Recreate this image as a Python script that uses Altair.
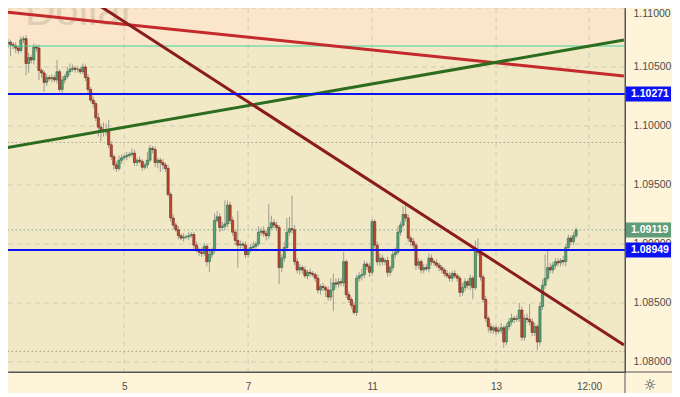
import altair as alt
import pandas as pd

# ---------------- data (EUR/USD hourly candles, hour index from Mon 3rd 00:00) ----------------
first_hour = 2
first_open = 1.1069
closes = [
    1.1070, 1.1071, 1.1069, 1.1068, 1.1066, 1.1064, 1.1073, 1.1074, 1.1053, 1.1058,
    1.1056, 1.1067, 1.1066, 1.1047, 1.1045, 1.1037, 1.1041, 1.1040, 1.1041, 1.1039,
    1.1046, 1.1031, 1.1039, 1.1042, 1.1046, 1.1048, 1.1049, 1.1048, 1.1048, 1.1046,
    1.1050, 1.1041, 1.1031, 1.1022, 1.1019, 1.1007, 1.0999, 1.0997, 1.0995, 1.0997,
    1.0984, 1.0974, 1.0967, 1.0964, 1.0971, 1.0973, 1.0974, 1.0975, 1.0976, 1.0977,
    1.0969, 1.0971, 1.0970, 1.0965, 1.0967, 1.0971, 1.0981, 1.0980, 1.0969, 1.0971,
    1.0969, 1.0967, 1.0964, 1.0942, 1.0922, 1.0916, 1.0912, 1.0907, 1.0905, 1.0906,
    1.0906, 1.0907, 1.0908, 1.0899, 1.0895, 1.0893, 1.0892, 1.0898, 1.0885, 1.0891,
    1.0895, 1.0920, 1.0923, 1.0914, 1.0915, 1.0917, 1.0933, 1.0920, 1.0910, 1.0903,
    1.0899, 1.0900, 1.0899, 1.0891, 1.0895, 1.0897, 1.0898, 1.0900, 1.0910, 1.0911,
    1.0909, 1.0907, 1.0914, 1.0918, 1.0916, 1.0914, 1.0880, 1.0888, 1.0897, 1.0910,
    1.0913, 1.0912, 1.0885, 1.0878, 1.0880, 1.0878, 1.0873, 1.0876, 1.0875, 1.0874,
    1.0871, 1.0861, 1.0864, 1.0863, 1.0861, 1.0855, 1.0861, 1.0867, 1.0866, 1.0868,
    1.0867, 1.0885, 1.0857, 1.0853, 1.0848, 1.0842, 1.0871, 1.0873, 1.0874, 1.0883,
    1.0881, 1.0876, 1.0919, 1.0899, 1.0885, 1.0888, 1.0885, 1.0886, 1.0876, 1.0880,
    1.0891, 1.0893, 1.0910, 1.0916, 1.0925, 1.0922, 1.0905, 1.0902, 1.0899, 1.0882,
    1.0885, 1.0878, 1.0880, 1.0879, 1.0888, 1.0885, 1.0884, 1.0882, 1.0880, 1.0878,
    1.0875, 1.0873, 1.0871, 1.0875, 1.0873, 1.0871, 1.0859, 1.0863, 1.0868, 1.0865,
    1.0871, 1.0863, 1.0895, 1.0893, 1.0872, 1.0853, 1.0837, 1.0830, 1.0827, 1.0829,
    1.0826, 1.0827, 1.0829, 1.0817, 1.0830, 1.0834, 1.0837, 1.0836, 1.0837, 1.0844,
    1.0821, 1.0837, 1.0836, 1.0834, 1.0825, 1.0830, 1.0817, 1.0847, 1.0865, 1.0871,
    1.0880, 1.0878, 1.0882, 1.0885, 1.0884, 1.0886, 1.0885, 1.0897, 1.0905, 1.0902,
    1.0907, 1.0912,
]
upper_wick_pips = [
    2, 3, 2, 2, 3, 2, 3, 2, 3, 4,
    2, 3, 2, 3, 2, 2, 3, 2, 3, 2,
    10, 2, 3, 2, 4, 5, 3, 2, 3, 2,
    3, 2, 3, 2, 3, 2, 4, 3, 6, 5,
    8, 3, 2, 3, 4, 3, 2, 3, 2, 4,
    3, 2, 3, 2, 2, 7, 3, 2, 3, 2,
    2, 3, 2, 3, 2, 3, 2, 3, 2, 3,
    2, 3, 2, 2, 3, 2, 4, 3, 2, 3,
    2, 6, 5, 3, 4, 20, 4, 3, 3, 2,
    25, 3, 2, 3, 2, 3, 4, 2, 5, 3,
    4, 3, 20, 6, 3, 3, 2, 3, 5, 12,
    10, 28, 4, 3, 3, 2, 3, 2, 3, 2,
    2, 3, 2, 3, 2, 3, 10, 8, 4, 3,
    3, 8, 2, 3, 2, 3, 3, 3, 5, 3,
    2, 3, 2, 2, 3, 4, 3, 2, 3, 2,
    3, 4, 5, 3, 7, 8, 3, 2, 3, 2,
    3, 2, 3, 3, 4, 3, 2, 3, 2, 2,
    2, 3, 3, 2, 3, 2, 2, 4, 3, 2,
    3, 2, 8, 10, 3, 2, 3, 2, 3, 2,
    2, 3, 4, 2, 3, 3, 4, 2, 3, 6,
    3, 3, 4, 13, 3, 3, 2, 4, 5, 20,
    14, 4, 3, 3, 3, 2, 4, 3, 3, 2,
    3, 2,
]
lower_wick_pips = [
    3, 4, 10, 3, 4, 3, 2, 3, 10, 8,
    3, 4, 3, 8, 4, 8, 3, 2, 3, 2,
    3, 2, 4, 3, 2, 3, 2, 3, 3, 2,
    2, 3, 3, 2, 4, 3, 8, 10, 4, 3,
    3, 3, 4, 3, 2, 3, 2, 3, 2, 2,
    3, 3, 2, 3, 2, 3, 2, 3, 4, 5,
    8, 4, 3, 2, 3, 3, 2, 3, 2, 3,
    2, 3, 2, 3, 2, 3, 3, 2, 4, 9,
    3, 3, 2, 4, 3, 3, 3, 3, 3, 4,
    19, 3, 4, 3, 3, 2, 3, 3, 2, 3,
    3, 4, 3, 2, 3, 3, 14, 4, 3, 3,
    3, 3, 3, 3, 4, 3, 2, 3, 3, 2,
    3, 3, 4, 3, 6, 3, 3, 18, 4, 3,
    3, 3, 3, 3, 3, 2, 3, 3, 4, 3,
    3, 4, 3, 3, 3, 4, 3, 3, 4, 3,
    3, 3, 2, 3, 2, 3, 3, 4, 3, 4,
    3, 3, 3, 2, 3, 3, 3, 2, 3, 3,
    3, 2, 3, 3, 2, 3, 4, 3, 3, 3,
    4, 10, 2, 3, 3, 3, 3, 5, 3, 3,
    3, 2, 3, 5, 3, 3, 3, 3, 2, 3,
    3, 3, 3, 3, 3, 3, 7, 3, 3, 3,
    2, 3, 3, 3, 3, 3, 3, 4, 3, 3,
    3, 2,
]

# x-axis ticks (hour index -> label)
tick_hours = [48, 96, 144, 192, 228]
tick_labels = ["5", "7", "11", "13", "12:00"]
# price axis ticks
price_ticks = [1.080, 1.085, 1.090, 1.095, 1.100, 1.105, 1.110]

# horizontal levels
blue_levels = [1.10271, 1.08949]
mint_level = 1.10678
dotted_levels = [1.0986, 1.0912, 1.0809]
dotted_colors = ["#a7a58f", "#86a88e", "#a7a58f"]

# trend lines (hour index, price)
trend_name = ["red", "red", "green", "green", "maroon", "maroon"]
trend_hour = [1.905, 241.524, 1.905, 241.524, 35.05, 241.524]
trend_price = [1.10966, 1.10424, 1.09814, 1.10729, 1.110678, 1.08144]
trend_colors = {"red": "#c42a2c", "green": "#2c6c1f", "maroon": "#8a1c1e"}

# price tags on the axis
tag_price = [1.10271, 1.09119, 1.08949]
tag_text = ["1.10271", "1.09119", "1.08949"]
tag_color = ["#0a12f5", "#5f9c79", "#0a12f5"]

# ---------------- build ----------------
opens = [first_open] + closes[:-1]
rows = []
for k, c in enumerate(closes):
    o = opens[k]
    rows.append(dict(
        t=first_hour + k, open=o, close=c,
        high=max(o, c) + upper_wick_pips[k] / 1e4,
        low=min(o, c) - lower_wick_pips[k] / 1e4,
        fillc="#58a078" if c >= o else "#bd4a30",
        edgec="#2f6a48" if c >= o else "#6e2418",
    ))
candles = pd.DataFrame(rows)

W, H = 617, 364
RP = 47
xs = alt.Scale(domain=[4.952, 240.0], nice=False, zero=False)
ys = alt.Scale(domain=[1.079151, 1.11], nice=False, zero=False)
FONT = "Liberation Sans"

label_expr = " : ".join(
    f"datum.value == {h} ? '{l}'" for h, l in zip(tick_hours, tick_labels)
) + " : ''"

x_axis = alt.Axis(values=tick_hours, labelExpr=label_expr, grid=False, ticks=False,
                  domain=True, domainColor="#555555", labelColor="#4d4d4d",
                  labelFont=FONT, labelFontSize=10, labelPadding=9, title=None)
y_axis = alt.Axis(orient="right", values=price_ticks, format=".5f", grid=False, ticks=False,
                  domain=True, domainColor="#555555", labelColor="#4d4d4d",
                  labelFont=FONT, labelFontSize=10.5, labelPadding=8, labelOverlap=False,
                  labelFlush=True, title=None)

# upper peach zone
zone = alt.Chart(pd.DataFrame({"lo": [mint_level], "hi": [1.11]})).mark_rect(
    color="#fce6cb").encode(
    x=alt.value(0), x2=alt.value(W),
    y=alt.Y("lo:Q", scale=ys, axis=y_axis), y2="hi:Q")

# dashed grid
hgrid = alt.Chart(pd.DataFrame({"p": price_ticks})).mark_rule(
    color="#d3ccb4", strokeDash=[5, 4], strokeWidth=1).encode(
    y=alt.Y("p:Q", scale=ys))
vgrid = alt.Chart(pd.DataFrame({"t": tick_hours})).mark_rule(
    color="#d3ccb4", strokeDash=[5, 4], strokeWidth=1).encode(
    x=alt.X("t:Q", scale=xs, axis=x_axis))

dotted = alt.Chart(pd.DataFrame({"p": dotted_levels, "c": dotted_colors})).mark_rule(
    strokeDash=[1.5, 2.5], strokeWidth=1).encode(
    y=alt.Y("p:Q", scale=ys), color=alt.Color("c:N", scale=None))

wicks = alt.Chart(candles).mark_rule(color="#9c9c94", strokeWidth=1, clip=True).encode(
    x=alt.X("t:Q", scale=xs), y=alt.Y("low:Q", scale=ys), y2="high:Q")

bodies = alt.Chart(candles).mark_bar(width=2.2, strokeWidth=0.6, clip=True).encode(
    x=alt.X("t:Q", scale=xs), y=alt.Y("open:Q", scale=ys), y2="close:Q",
    color=alt.Color("fillc:N", scale=None),
    stroke=alt.Stroke("edgec:N", scale=None))

mint = alt.Chart(pd.DataFrame({"p": [mint_level]})).mark_rule(
    color="#3fd6a2", strokeWidth=1.2).encode(y=alt.Y("p:Q", scale=ys))

trend_df = pd.DataFrame({"name": trend_name, "t": trend_hour, "p": trend_price})
trend_layers = [
    alt.Chart(trend_df).transform_filter(alt.datum.name == nm).mark_line(
        strokeWidth=3, clip=True, color=col).encode(
        x=alt.X("t:Q", scale=xs), y=alt.Y("p:Q", scale=ys))
    for nm, col in trend_colors.items()
]

blue = alt.Chart(pd.DataFrame({"p": blue_levels})).mark_rule(
    color="#0a12f5", strokeWidth=2).encode(y=alt.Y("p:Q", scale=ys))

tags_df = pd.DataFrame({"p": tag_price, "txt": tag_text, "c": tag_color})
tags_df["top"] = tags_df["p"] + 0.00063
tags_df["bot"] = tags_df["p"] - 0.00063
tag_box = alt.Chart(tags_df).mark_rect().encode(
    x=alt.value(W + 1), x2=alt.value(W + RP - 1),
    y=alt.Y("top:Q", scale=ys), y2="bot:Q",
    color=alt.Color("c:N", scale=None))
tag_txt = alt.Chart(tags_df).mark_text(
    align="left", baseline="middle", font=FONT, fontSize=10.5, fontWeight="bold",
    color="white").encode(x=alt.value(W + 6), y=alt.Y("p:Q", scale=ys), text="txt:N")

# frame lines extending through axis area
frame_h = alt.Chart(pd.DataFrame({"a": [0]})).mark_rule(color="#555555").encode(
    x=alt.value(0), x2=alt.value(W + RP), y=alt.value(H))
frame_v = alt.Chart(pd.DataFrame({"a": [0]})).mark_rule(color="#555555").encode(
    x=alt.value(W), y=alt.value(0), y2=alt.value(H + 30))

watermark = alt.Chart(pd.DataFrame({"s": ["Dollar"]})).mark_text(
    align="left", baseline="alphabetic", font=FONT, fontSize=42, color="#dcccb2",
    opacity=0.9).encode(x=alt.value(17), y=alt.value(17), text="s:N")

icon = alt.Chart(pd.DataFrame({"s": ["☼"]})).mark_text(
    align="center", baseline="middle", font="DejaVu Sans", fontSize=15,
    color="#333333").encode(x=alt.value(W + 25), y=alt.value(H + 13), text="s:N")

chart = alt.layer(
    zone, hgrid, vgrid, watermark, dotted, wicks, bodies, mint, *trend_layers, blue,
    tag_box, tag_txt, frame_h, frame_v, icon
).properties(
    width=W, height=H, autosize=alt.AutoSizeParams(type="none"),
    padding={"left": 0, "top": 0, "right": RP, "bottom": 21},
    background="#fdf4da",
).configure_view(fill="#f1e8c5", stroke=None)

chart.save("out.html", embed_options={"renderer": "svg", "actions": False})
